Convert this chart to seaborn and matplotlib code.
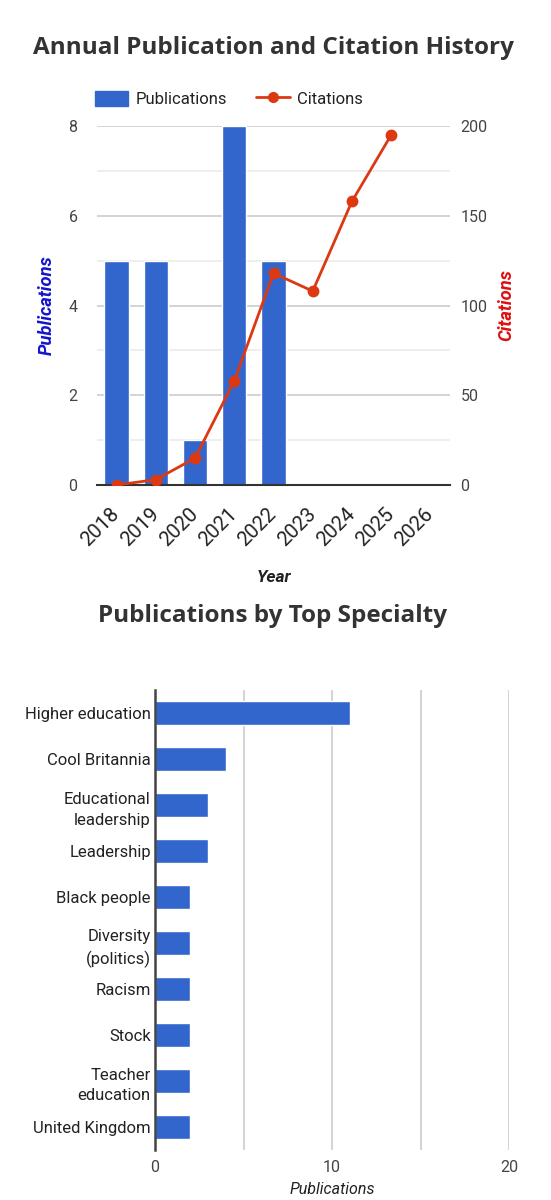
import pandas as pd
import seaborn as sns
import matplotlib.pyplot as plt
from matplotlib.patches import Patch
from matplotlib.lines import Line2D

# data
years = ['2018', '2019', '2020', '2021', '2022', '2023', '2024', '2025', '2026']
publications = [5, 5, 1, 8, 5, 0, 0, 0, 0]
citations = [0, 3, 15, 58, 118, 108, 158, 195, None]

specialties = ['Higher education', 'Cool Britannia', 'Educational\nleadership', 'Leadership',
               'Black people', 'Diversity\n(politics)', 'Racism', 'Stock',
               'Teacher\neducation', 'United Kingdom']
specialty_counts = [11, 4, 3, 3, 2, 2, 2, 2, 2, 2]

BLUE = '#3366CC'
RED = '#DC3912'
TXT = '#444444'

sns.set_style('white')
plt.rcParams['font.family'] = ['Roboto', 'DejaVu Sans']

df_years = pd.DataFrame({'year': years, 'publications': publications, 'citations': citations})
df_spec = pd.DataFrame({'specialty': specialties, 'count': specialty_counts})

fig = plt.figure(figsize=(5.51, 12), dpi=100)

#%% top chart: publications + citations
ax = fig.add_axes([97/551, 1 - 485/1200, 353/551, 359/1200])
sns.barplot(data=df_years, x='year', y='publications', order=years, color=BLUE,
            width=0.62, saturation=1, ax=ax, zorder=2)
ax.set_ylim(0, 8)
ax.set_yticks([0, 2, 4, 6, 8])
ax.set_yticks([1, 3, 5, 7], minor=True)
ax.grid(axis='y', which='major', color='#cccccc', lw=1.2, zorder=0)
ax.grid(axis='y', which='minor', color='#ebebeb', lw=1.2, zorder=0)
ax.grid(axis='x', visible=False)
ax.set_axisbelow(True)
for s in ['top', 'right', 'left']:
    ax.spines[s].set_visible(False)
ax.spines['bottom'].set_color('#333333')
ax.spines['bottom'].set_linewidth(1.5)
ax.tick_params(axis='y', which='both', length=0, pad=14, labelsize=11.5, labelcolor=TXT)
ax.tick_params(axis='x', length=0, pad=19, labelsize=14.5, labelcolor='#222222')
plt.setp(ax.get_xticklabels(), rotation=45, ha='right', va='center', rotation_mode='anchor')
ax.set_xlim(-0.5, 8.5)
ax.set_xlabel('Year', fontsize=12.5, fontstyle='italic', fontweight='bold', color='#222222', labelpad=14)
ax.set_ylabel('Publications', fontsize=13.2, fontstyle='italic', fontweight='bold', color='#1515cc', labelpad=9)

ax2 = ax.twinx()
sns.pointplot(data=df_years, x='year', y='citations', order=years, color=RED,
              markersize=7, linewidth=2, ax=ax2)
ax2.set_ylim(0, 200)
ax2.set_yticks([0, 50, 100, 150, 200])
for s in ['top', 'right', 'left', 'bottom']:
    ax2.spines[s].set_visible(False)
ax2.tick_params(axis='y', length=0, pad=7.5, labelsize=11.5, labelcolor=TXT)
ax2.set_ylabel('Citations', fontsize=13.2, fontstyle='italic', fontweight='bold', color='#dd1010', labelpad=7)
ax2.set_xlim(-0.5, 8.5)

handles = [Patch(color=BLUE), Line2D([], [], color=RED, lw=2, marker='o', markersize=7)]
fig.legend(handles, ['Publications', 'Citations'], loc='center', bbox_to_anchor=(229/551, 1 - 99/1200),
           ncol=2, frameon=False, fontsize=12, labelcolor='#222222', handlelength=2.0,
           handleheight=1.0, columnspacing=1.75, handletextpad=0.45)

fig.text(273/551, 1 - 48/1200, 'Annual Publication and Citation History', ha='center', va='center',
         fontsize=17.5, fontweight='bold', family=['Open Sans', 'DejaVu Sans'], color='#333333')

#%% bottom chart: top specialties
bx = fig.add_axes([155/551, 1 - 1150/1200, 354/551, 460/1200])
sns.barplot(data=df_spec, y='specialty', x='count', order=specialties, color=BLUE,
            width=0.52, saturation=1, orient='h', ax=bx, zorder=2)
bx.set_xlim(0, 20)
bx.set_xticks([0, 10, 20])
bx.set_xticks([5, 15], minor=True)
bx.grid(axis='x', which='both', color='#cccccc', lw=1.2, zorder=0)
bx.grid(axis='y', visible=False)
bx.set_axisbelow(True)
for s in ['top', 'right', 'bottom']:
    bx.spines[s].set_visible(False)
bx.spines['left'].set_color('#444444')
bx.spines['left'].set_linewidth(1.8)
bx.tick_params(axis='x', which='both', length=0, pad=7, labelsize=11.5, labelcolor=TXT)
bx.tick_params(axis='y', length=0, pad=3, labelsize=12, labelcolor='#222222')
for lbl in bx.get_yticklabels():
    lbl.set_multialignment('right')
    lbl.set_linespacing(1.5)
bx.set_ylabel('')
bx.set_xlabel('Publications', fontsize=11.5, fontstyle='italic', color='#222222', labelpad=5)

fig.text(273/551, 1 - 616/1200, 'Publications by Top Specialty', ha='center', va='center',
         fontsize=17.5, fontweight='bold', family=['Open Sans', 'DejaVu Sans'], color='#333333')

fig.savefig('out.png', dpi=100, facecolor='white')
